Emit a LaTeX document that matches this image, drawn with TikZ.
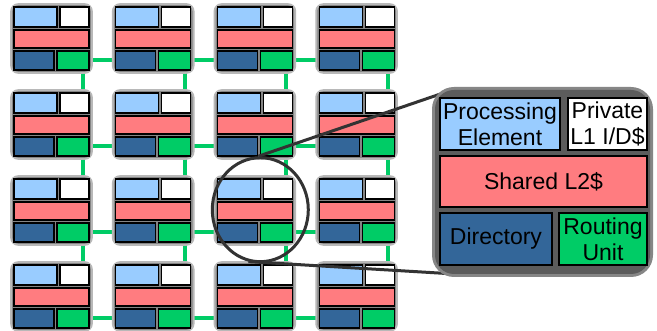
\documentclass[tikz,border=0pt]{standalone}
\usepackage{fontspec}
\setmainfont{Liberation Sans}
\usetikzlibrary{shapes.geometric}

\definecolor{peblue}{HTML}{99CCFF}
\definecolor{l2red}{HTML}{FF7C80}
\definecolor{dirblue}{HTML}{336699}
\definecolor{rtgreen}{HTML}{00CC66}
\definecolor{ringgray}{HTML}{333333}
\definecolor{tileedge}{HTML}{B8B8B8}
\definecolor{tilefill}{HTML}{858585}
\definecolor{bigedge}{HTML}{868686}
\definecolor{bigfill}{HTML}{5C5C5C}

\begin{document}
\begin{tikzpicture}[x=1pt,y=-1pt,
  cell/.style={draw=black, line width=1.1pt, inner sep=0pt, outer sep=0pt, anchor=north west},
  bigcell/.style={draw=black, line width=1.4pt, inner sep=0pt, outer sep=0pt, anchor=north west,
    align=center, font=\fontsize{23}{26}\selectfont},
  link/.style={draw=rtgreen, line width=4pt},
  lensline/.style={draw=ringgray, line width=3pt},
]
\useasboundingbox (0,0) rectangle (657,331);
\fill[white] (0,0) rectangle (657,331);

% router attachment points of the 4x4 mesh
\foreach \i in {0,...,3}{
  \foreach \j in {0,...,3}{
    \pgfmathsetmacro\X{14+101.7*\i}
    \pgfmathsetmacro\Y{7+86*\j}
    \coordinate (p-\i-\j) at (\X+69,\Y+53.5);
  }
}

% mesh links (behind the tiles)
\foreach \k in {0,...,3}{
  \draw[link] (p-0-\k) -- (p-3-\k);
  \draw[link] (p-\k-0) -- (p-\k-3);
}

% the tiles
\foreach \i in {0,...,3}{
  \foreach \j in {0,...,3}{
    \pgfmathsetmacro\X{14+101.7*\i}
    \pgfmathsetmacro\Y{7+86*\j}
    \begin{scope}[shift={(\X,\Y)}]
      \fill[tileedge, rounded corners=8pt] (-3.8,-3.8) rectangle (78.8,66.8);
      \fill[tilefill, rounded corners=6pt] (-1.8,-1.8) rectangle (76.8,64.8);
      \node[cell, fill=peblue,  minimum width=43pt, minimum height=20pt] (t-\i-\j-pe)  at (0,0) {};
      \node[cell, fill=white,   minimum width=29pt, minimum height=20pt] (t-\i-\j-l1)  at (46,0) {};
      \node[cell, fill=l2red,   minimum width=75pt, minimum height=18pt] (t-\i-\j-l2)  at (0,23) {};
      \node[cell, fill=dirblue, minimum width=40pt, minimum height=19pt] (t-\i-\j-dir) at (0,44) {};
      \node[cell, fill=rtgreen, minimum width=32pt, minimum height=19pt] (t-\i-\j-rt)  at (43,44) {};
    \end{scope}
  }
}

% magnifying lens over one tile
\node[draw=ringgray, line width=3pt, ellipse, inner sep=0pt,
      minimum width=96pt, minimum height=104pt] (lens) at (260.3,209.7) {};

\coordinate (zt) at (455,89);
\coordinate (zb) at (455,274);
\draw[lensline] (lens.92) -- (zt);
\draw[lensline] (lens.257) -- (zb);

% enlarged tile
\fill[bigedge, rounded corners=22pt] (432,87) rectangle (653,277);
\fill[bigfill, rounded corners=19pt] (435,90) rectangle (650,274);
\node[bigcell, fill=peblue,  minimum width=120pt, minimum height=52pt] (pe)  at (440,98)  {Processing\\Element};
\node[bigcell, fill=white,   minimum width=79pt,  minimum height=52pt] (l1)  at (568,98)  {Private\\L1 I/D\$};
\node[bigcell, fill=l2red,   minimum width=207pt, minimum height=51pt] (l2)  at (440,156) {Shared L2\$};
\node[bigcell, fill=dirblue, minimum width=112pt, minimum height=52pt] (dir) at (440,213) {Directory};
\node[bigcell, fill=rtgreen, minimum width=88pt,  minimum height=52pt] (rt)  at (559,213) {Routing\\Unit};
\end{tikzpicture}
\end{document}
